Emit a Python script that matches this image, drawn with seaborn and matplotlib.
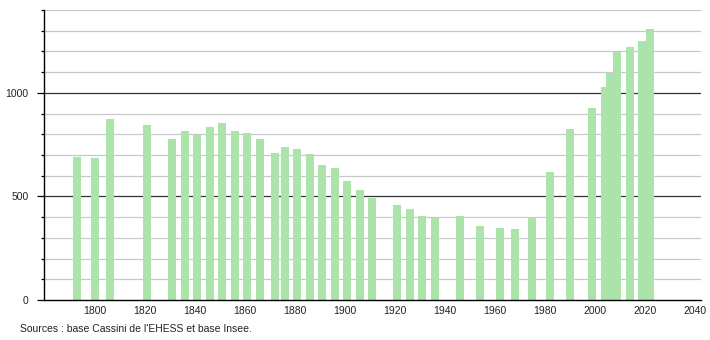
import matplotlib
matplotlib.use("Agg")
import matplotlib.pyplot as plt
import seaborn as sns
import numpy as np

years = [1793, 1800, 1806, 1821, 1831, 1836, 1841, 1846, 1851, 1856, 1861, 1866,
         1872, 1876, 1881, 1886, 1891, 1896, 1901, 1906, 1911, 1921, 1926, 1931,
         1936, 1946, 1954, 1962, 1968, 1975, 1982, 1990, 1999, 2004, 2006, 2009,
         2014, 2019, 2022]
population = [692, 686, 873, 845, 778, 816, 795, 837, 853, 816, 807, 778,
              710, 741, 729, 705, 653, 637, 575, 531, 492, 459, 438, 406,
              395, 406, 357, 348, 343, 401, 620, 824, 929, 1026, 1095, 1196,
              1220, 1250, 1308]
x_ticks = [1800, 1820, 1840, 1860, 1880, 1900, 1920, 1940, 1960, 1980, 2000, 2020, 2040]
y_major = [0, 500, 1000]
source_text = "Sources : base Cassini de l'EHESS et base Insee."

sns.set_theme(style="white")
plt.rcParams['font.family'] = ['Liberation Sans', 'DejaVu Sans']

fig = plt.figure(figsize=(7.1, 3.4), dpi=100)
ax = fig.add_axes([44 / 710, 1 - 300 / 340, (701 - 44) / 710, 290 / 340])

# grid lines every 100
for v in range(100, 1500, 100):
    if v % 500 == 0:
        ax.axhline(v, color="#333333", lw=0.9, zorder=0)
    else:
        ax.axhline(v, color="#c8c8c8", lw=0.9, zorder=0)

sns.barplot(x=years, y=population, native_scale=True, orient="x", width=1.6,
            color="#abe3ab", saturation=1, errorbar=None, ax=ax, zorder=2,
            linewidth=0)

ax.set_xlim(1779.8, 2042.5)
ax.set_ylim(0, 1400)

ax.set_xticks(x_ticks)
ax.set_xticklabels([str(t) for t in x_ticks], fontsize=7.5, color="#222222")
ax.set_yticks(y_major)
ax.set_yticklabels([str(t) for t in y_major], fontsize=7.5, color="#222222")
ax.set_yticks(range(0, 1500, 100), minor=True)
ax.tick_params(axis="x", length=0, pad=4)
ax.tick_params(axis="y", which="major", length=5, width=0.9, color="black", pad=6, left=True)
ax.tick_params(axis="y", which="minor", length=2.5, width=0.9, color="black", left=True)

for s in ["top", "right"]:
    ax.spines[s].set_visible(False)
for s in ["left", "bottom"]:
    ax.spines[s].set_color("black")
    ax.spines[s].set_linewidth(1.0)
    ax.spines[s].set_zorder(3)

ax.set_xlabel("")
ax.set_ylabel("")
ax.grid(False)

fig.text(20 / 710, 1 - 329 / 340, source_text, fontsize=7.5, color="#222222",
         ha="left", va="center")

fig.savefig("out.png", dpi=100)
